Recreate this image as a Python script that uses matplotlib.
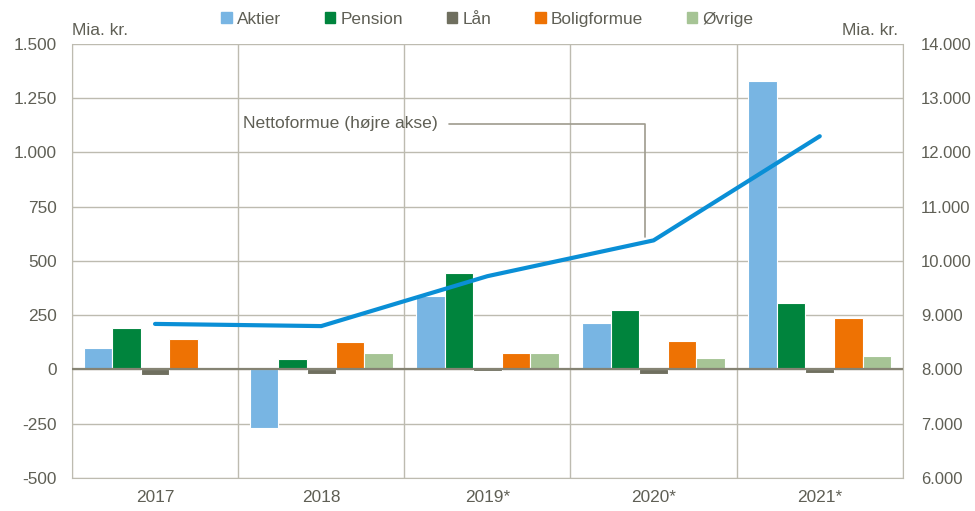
import numpy as np
import matplotlib.pyplot as plt
from matplotlib.patches import Patch

# data
years = ['2017', '2018', '2019*', '2020*', '2021*']
aktier = [100, -270, 338, 213, 1330]
pension = [192, 50, 446, 275, 308]
laan = [-27, -20, -8, -20, -15]
boligformue = [142, 127, 77, 132, 237]
oevrige = [0, 78, 75, 55, 61]
nettoformue = [8840, 8800, 9720, 10380, 12300]

series = [('Aktier', aktier, '#78b5e3'),
          ('Pension', pension, '#00843d'),
          ('Lån', laan, '#6f6f5f'),
          ('Boligformue', boligformue, '#ee7203'),
          ('Øvrige', oevrige, '#a6c495')]

txt = '#5f5f55'
grid = '#bdbbb0'
fs = 12
plt.rcParams['font.family'] = ['Liberation Sans', 'DejaVu Sans']
plt.rcParams['font.size'] = fs

fig = plt.figure(figsize=(9.75, 5.11), dpi=100)
ax = fig.add_axes([0.0738, 0.0646, 0.8522, 0.8493])
ax2 = ax.twinx()

x = np.arange(len(years))
w = 0.172
for i, (name, vals, col) in enumerate(series):
    ax.bar(x + (i - 2) * w, vals, w, color=col, edgecolor='white', linewidth=0.8,
           label=name, zorder=3)

ax.set_xlim(-0.5, 4.5)
ax.set_ylim(-500, 1500)
ax.set_yticks(np.arange(-500, 1501, 250))
ax.set_yticklabels([f'{v:,}'.replace(',', '.') for v in range(-500, 1501, 250)])
ax.set_xticks(x)
ax.set_xticklabels(years)
ax.set_xticks(np.arange(-0.5, 4.6, 1), minor=True)
ax.grid(axis='y', color=grid, linewidth=1, zorder=0)
ax.grid(axis='x', which='minor', color=grid, linewidth=1, zorder=0)
ax.axhline(0, color='#858373', linewidth=1.6, zorder=4)
ax.tick_params(which='both', length=0, colors=txt, labelsize=12.4)
ax.tick_params(axis='x', pad=9)
ax.tick_params(axis='y', pad=11)
for s in ax.spines.values():
    s.set_color(grid)
ax.spines['top'].set_visible(False)

ax2.plot(x, nettoformue, color='#0a8fd6', linewidth=3, solid_capstyle='round', zorder=5)
ax2.set_ylim(6000, 14000)
ax2.set_yticks(np.arange(6000, 14001, 1000))
ax2.set_yticklabels([f'{v:,}'.replace(',', '.') for v in range(6000, 14001, 1000)])
ax2.tick_params(length=0, colors=txt, labelsize=12, pad=13)
for s in ax2.spines.values():
    s.set_visible(False)

# annotation with elbow connector
ax2.annotate('Nettoformue (højre akse)', xy=(2.95, nettoformue[3] + 60),
             xytext=(0.53, 12530), color=txt, fontsize=12.6, va='center',
             arrowprops=dict(arrowstyle='-', color='#9e9b8e', linewidth=1.2,
                             connectionstyle='angle,angleA=0,angleB=90,rad=0',
                             shrinkA=6, shrinkB=0))

fig.text(0.074, 0.94, 'Mia. kr.', color=txt, fontsize=12.6, ha='left', va='center')
fig.text(0.921, 0.94, 'Mia. kr.', color=txt, fontsize=12.6, ha='right', va='center')

handles = [Patch(color=c, label=n) for n, v, c in series]
fig.legend(handles=handles, loc='center', bbox_to_anchor=(0.5, 0.962), ncol=5,
           frameon=False, handlelength=0.6, handleheight=0.6, handletextpad=0.3,
           columnspacing=2.55, labelcolor=txt, fontsize=12.4)

fig.savefig('out.png', dpi=100)
